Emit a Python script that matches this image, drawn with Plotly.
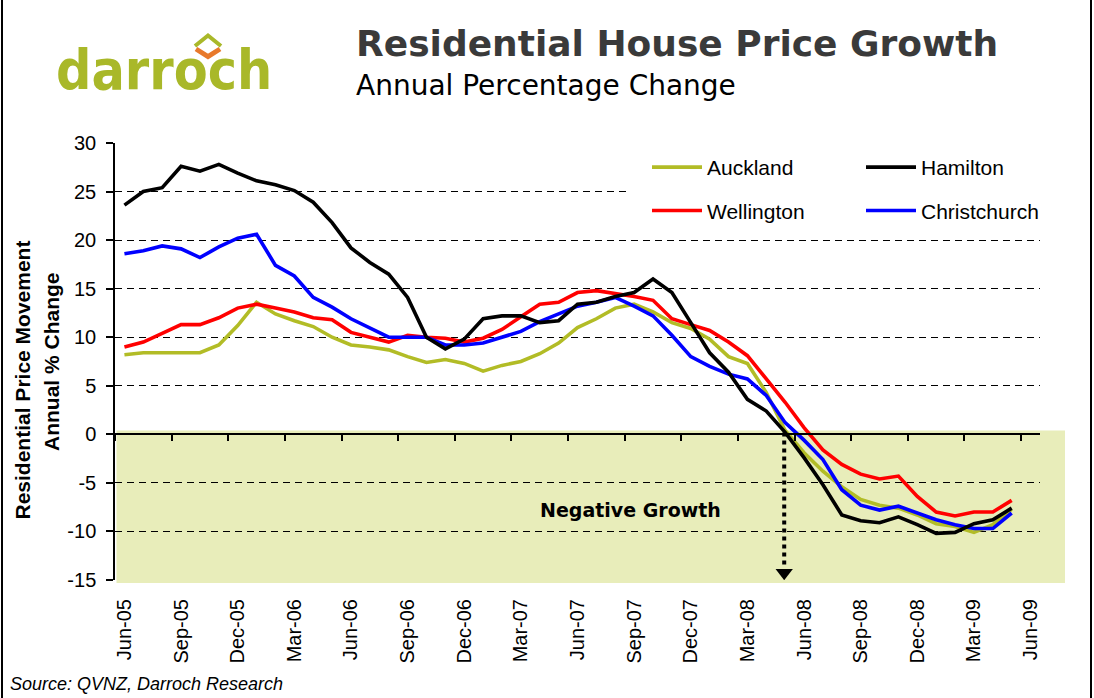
import plotly.graph_objects as go

# ---------------- data ----------------
months = ["Jun-05", "Jul-05", "Aug-05", "Sep-05", "Oct-05", "Nov-05", "Dec-05",
          "Jan-06", "Feb-06", "Mar-06", "Apr-06", "May-06", "Jun-06", "Jul-06",
          "Aug-06", "Sep-06", "Oct-06", "Nov-06", "Dec-06", "Jan-07", "Feb-07",
          "Mar-07", "Apr-07", "May-07", "Jun-07", "Jul-07", "Aug-07", "Sep-07",
          "Oct-07", "Nov-07", "Dec-07", "Jan-08", "Feb-08", "Mar-08", "Apr-08",
          "May-08", "Jun-08", "Jul-08", "Aug-08", "Sep-08", "Oct-08", "Nov-08",
          "Dec-08", "Jan-09", "Feb-09", "Mar-09", "Apr-09", "May-09"]
axis_categories = months + ["Jun-09"]
tick_labels = axis_categories[::3]
y_ticks = [-15, -10, -5, 0, 5, 10, 15, 20, 25, 30]
y_tick_labels = ["-15", "-10", "-5", "0", "5", "10", "15", "20", "25", "30"]

auckland = [8.2, 8.4, 8.4, 8.4, 8.4, 9.2, 11.2, 13.6, 12.4, 11.7, 11.1, 10.0,
            9.2, 9.0, 8.7, 8.0, 7.4, 7.7, 7.3, 6.5, 7.1, 7.5, 8.3, 9.4,
            11.0, 11.9, 13.0, 13.4, 12.6, 11.5, 10.9, 9.8, 8.0, 7.3, 4.3, 0.4,
            -1.9, -3.8, -5.4, -6.7, -7.3, -7.6, -8.3, -9.2, -9.5, -10.1, -9.3, -7.7]
hamilton = [23.6, 25.0, 25.4, 27.6, 27.1, 27.8, 26.9, 26.1, 25.7, 25.1, 23.9, 21.8,
            19.2, 17.7, 16.5, 14.1, 10.0, 8.8, 9.8, 11.9, 12.2, 12.2, 11.5, 11.7,
            13.4, 13.6, 14.2, 14.6, 16.0, 14.6, 11.5, 8.4, 6.4, 3.6, 2.4, 0.2,
            -2.4, -5.2, -8.3, -8.9, -9.1, -8.5, -9.3, -10.2, -10.1, -9.2, -8.8, -7.6]
wellington = [9.0, 9.5, 10.4, 11.3, 11.3, 12.0, 13.0, 13.4, 13.0, 12.6, 12.0, 11.8,
              10.5, 10.0, 9.5, 10.2, 10.0, 9.9, 9.5, 9.9, 10.8, 12.1, 13.4, 13.6,
              14.6, 14.8, 14.5, 14.2, 13.8, 11.9, 11.3, 10.7, 9.5, 8.1, 5.7, 3.3,
              0.7, -1.6, -3.1, -4.1, -4.6, -4.3, -6.4, -8.0, -8.4, -8.0, -8.0, -6.8]
christchurch = [18.6, 18.9, 19.4, 19.1, 18.2, 19.3, 20.2, 20.6, 17.4, 16.3, 14.1, 13.1,
                11.9, 10.9, 10.0, 10.0, 10.0, 9.2, 9.2, 9.4, 10.0, 10.6, 11.6, 12.4,
                13.2, 13.6, 14.1, 13.2, 12.2, 10.2, 8.0, 7.0, 6.2, 5.7, 4.0, 1.2,
                -0.6, -2.6, -5.7, -7.3, -7.8, -7.4, -8.1, -8.8, -9.3, -9.7, -9.7, -8.1]

series_names = ["Auckland", "Wellington", "Christchurch", "Hamilton"]
series_values = [auckland, wellington, christchurch, hamilton]
series_colors = ["#B2BC26", "#FF0000", "#0000FF", "#000000"]
series_legend = ["legend", "legend", "legend2", "legend2"]
series_rank = [1, 2, 2, 1]

arrow_month_pos = 34.95   # "negative growth" marker position (between Apr-08 and May-08)

# ---------------- geometry helpers (pixel -> paper) ----------------
W, H = 1094, 698
L, R, T, B = 115, 1040, 143, 580


def fx(px):
    return (px - L) / (R - L)


def fy(py):
    return (B - py) / (B - T)


ARIAL = "Liberation Sans, Arial, sans-serif"
DEJA = "DejaVu Sans, Verdana, sans-serif"

fig = go.Figure()

for name, vals, col, lg, rk in zip(series_names, series_values, series_colors,
                                   series_legend, series_rank):
    fig.add_trace(go.Scatter(
        x=months, y=vals, name=name, mode="lines",
        line=dict(color=col, width=3.6),
        legend=lg, legendgroup=name, legendrank=rk,
    ))

# arrow head of the dotted "negative growth" arrow
fig.add_trace(go.Scatter(
    x=[arrow_month_pos], y=[-14.25], mode="markers", xaxis="x2", yaxis="y",
    marker=dict(symbol="triangle-down", size=15, color="black"),
    showlegend=False, hoverinfo="skip",
))

shapes = [
    # shaded negative-growth band
    dict(type="rect", xref="paper", yref="paper",
         x0=fx(116.5), x1=fx(1065), y0=fy(583), y1=fy(430.5),
         fillcolor="#E8EDBA", line=dict(width=0), layer="below"),
    # white box behind legend (hides gridline)
    dict(type="rect", xref="paper", yref="paper",
         x0=fx(628), x1=fx(1066), y0=fy(233), y1=fy(147),
         fillcolor="white", line=dict(width=0), layer="above"),
    # dotted arrow shaft
    dict(type="line", xref="x2", yref="y",
         x0=arrow_month_pos, x1=arrow_month_pos, y0=0.2, y1=-13.6,
         line=dict(color="black", width=4, dash="4px,4px"), layer="above"),
    # outer frame (left / right)
    dict(type="line", xref="paper", yref="paper",
         x0=fx(2), x1=fx(2), y0=fy(-2), y1=fy(700),
         line=dict(color="black", width=2)),
    dict(type="line", xref="paper", yref="paper",
         x0=fx(1091), x1=fx(1091), y0=fy(-2), y1=fy(700),
         line=dict(color="black", width=2)),
    # logo diamond (green top, orange bottom)
    dict(type="path", xref="paper", yref="paper",
         path="M {:.5f},{:.5f} L {:.5f},{:.5f} L {:.5f},{:.5f}".format(
             fx(195), fy(46), fx(208), fy(35.5), fx(221), fy(46)),
         line=dict(color="#A9B829", width=4)),
    dict(type="path", xref="paper", yref="paper",
         path="M {:.5f},{:.5f} L {:.5f},{:.5f} L {:.5f},{:.5f}".format(
             fx(196), fy(49), fx(208), fy(56.5), fx(220), fy(49)),
         line=dict(color="#E8792B", width=5)),
]

annotations = [
    dict(text="darroch", x=fx(164), y=fy(70), xanchor="center", yanchor="middle",
         font=dict(family="DejaVu Sans Condensed, DejaVu Sans, sans-serif",
                   size=55, color="#A9B829", weight="bold")),
    dict(text="<b>Residential House Price Growth</b>", x=fx(354), y=fy(43),
         xanchor="left", yanchor="middle",
         font=dict(family=DEJA, size=36, color="#3A3A3A")),
    dict(text="Annual Percentage Change", x=fx(354), y=fy(85),
         xanchor="left", yanchor="middle",
         font=dict(family=DEJA, size=28, color="black")),
    dict(text="<b>Residential Price Movement</b>", x=fx(22), y=fy(380.5),
         textangle=-90, xanchor="center", yanchor="middle",
         font=dict(family=ARIAL, size=21, color="black")),
    dict(text="<b>Annual % Change</b>", x=fx(51.5), y=fy(361.5),
         textangle=-90, xanchor="center", yanchor="middle",
         font=dict(family=ARIAL, size=21, color="black")),
    dict(text="<b>Negative Growth</b>", x=fx(630), y=fy(510),
         xanchor="center", yanchor="middle",
         font=dict(family=DEJA, size=19, color="black")),
    dict(text="Source: QVNZ, Darroch Research", x=fx(8), y=fy(684),
         xanchor="left", yanchor="middle",
         font=dict(family=ARIAL, size=18, color="black", style="italic")),
]
for a in annotations:
    a.update(xref="paper", yref="paper", showarrow=False)

legend_common = dict(
    bgcolor="rgba(0,0,0,0)", borderwidth=0, orientation="v",
    font=dict(family=ARIAL, size=21, color="black"),
    tracegroupgap=13, itemwidth=50, yanchor="top", xanchor="left",
)

fig.update_layout(
    width=W, height=H, autosize=False,
    margin=dict(l=L, r=W - R, t=T, b=H - B, pad=0),
    paper_bgcolor="white", plot_bgcolor="white",
    showlegend=True,
    legend=dict(x=fx(647), y=fy(147), **legend_common),
    legend2=dict(x=fx(861), y=fy(147), **legend_common),
    xaxis=dict(
        type="category", categoryorder="array", categoryarray=axis_categories,
        range=[-0.5, len(axis_categories) - 0.5],
        tickmode="array", tickvals=tick_labels, ticktext=tick_labels,
        tickangle=-90, ticks="", showline=False, showgrid=False, zeroline=False,
        tickfont=dict(family=ARIAL, size=20, color="black"),
        ticklabelstandoff=14,
    ),
    xaxis2=dict(
        overlaying="x", anchor="free", position=fy(434),
        range=[-0.5, len(axis_categories) - 0.5],
        tickmode="array",
        tickvals=[i - 0.5 for i in range(0, len(axis_categories), 3)],
        ticks="outside", ticklen=6, tickwidth=1.5, tickcolor="black",
        showticklabels=False, showline=True, linecolor="black", linewidth=1.5,
        showgrid=False, zeroline=False,
    ),
    yaxis=dict(
        range=[-15, 30], tickmode="array", tickvals=y_ticks, ticktext=y_tick_labels,
        showgrid=True, gridcolor="black", gridwidth=1, griddash="7px,5px",
        showline=True, linecolor="black", linewidth=1.5,
        ticks="outside", ticklen=7, tickcolor="black", tickwidth=1.5,
        zeroline=False,
        tickfont=dict(family=ARIAL, size=20, color="black"),
        ticklabelstandoff=6,
    ),
    shapes=shapes,
    annotations=annotations,
)

fig.write_html(
    "out.html",
    config={"displayModeBar": False},
    post_script="document.body.style.margin='0px';document.body.style.overflow='hidden';",
)
